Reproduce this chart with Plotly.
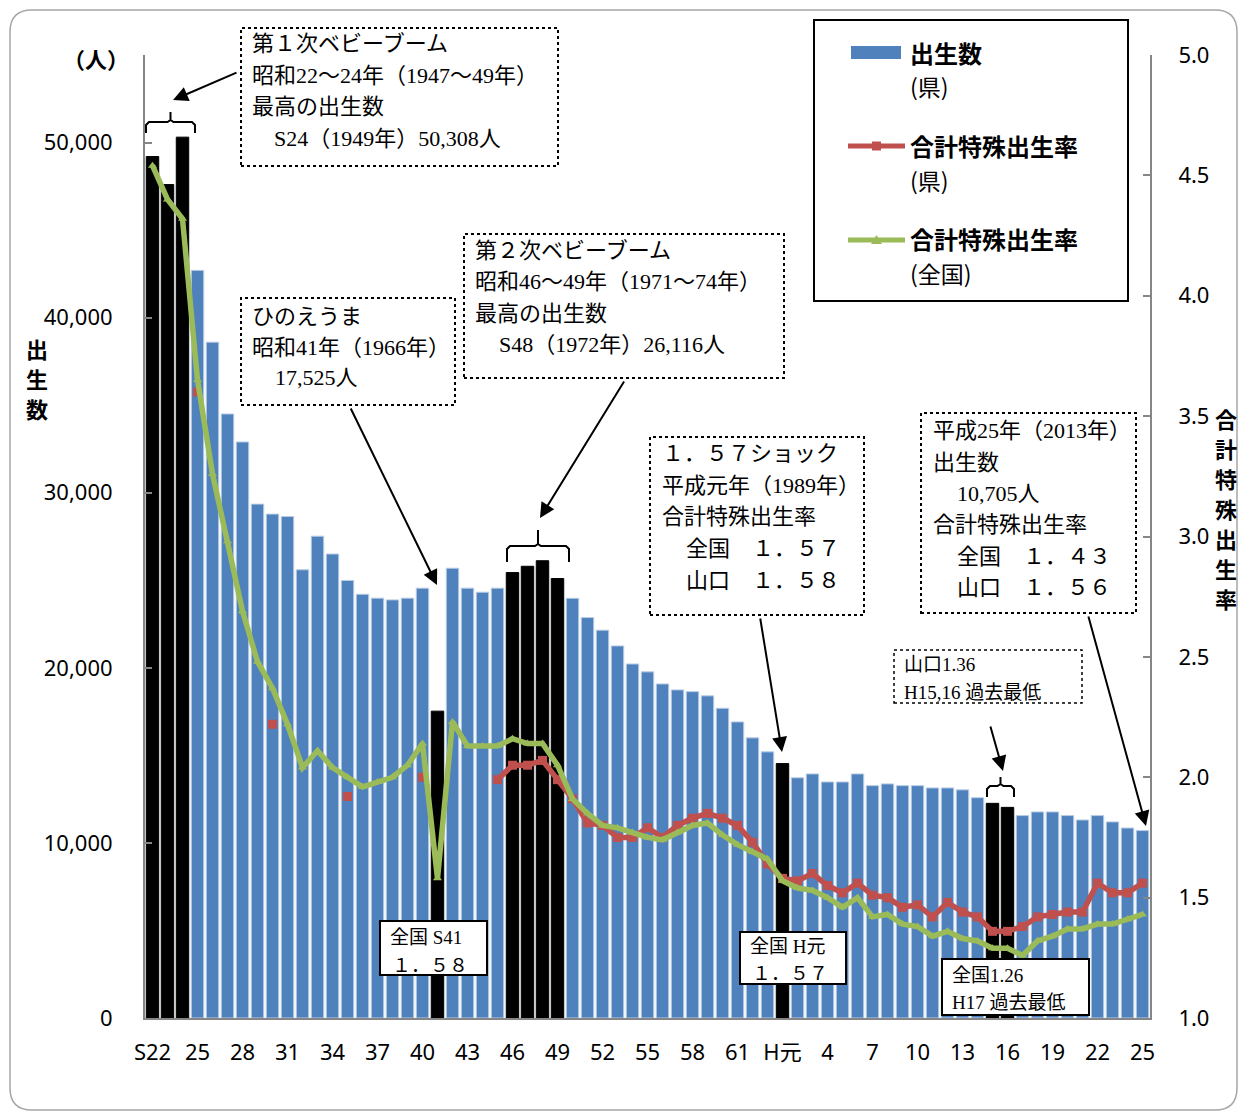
import plotly.graph_objects as go

# Fiscal years: Showa 22 (1947) ... Showa 63, Heisei 1 (1989) ... Heisei 25 (2013)
years = ["S22", "S23", "S24", "S25", "S26", "S27", "S28", "S29", "S30", "S31",
         "S32", "S33", "S34", "S35", "S36", "S37", "S38", "S39", "S40", "S41",
         "S42", "S43", "S44", "S45", "S46", "S47", "S48", "S49", "S50", "S51",
         "S52", "S53", "S54", "S55", "S56", "S57", "S58", "S59", "S60", "S61",
         "S62", "S63", "H1", "H2", "H3", "H4", "H5", "H6", "H7", "H8",
         "H9", "H10", "H11", "H12", "H13", "H14", "H15", "H16", "H17", "H18",
         "H19", "H20", "H21", "H22", "H23", "H24", "H25"]

# Births in the prefecture (persons)
births = [49200, 47600, 50308, 42700, 38600, 34500, 32900, 29350, 28780, 28640,
          25600, 27520, 26500, 24990, 24200, 23980, 23880, 23980, 24550, 17525,
          25690, 24550, 24320, 24550, 25440, 25800, 26116, 25100, 23970, 22870,
          22150, 21250, 20220, 19770, 19080, 18740, 18640, 18400, 17690, 16910,
          16000, 15200, 14530, 13720, 13940, 13480, 13480, 13940, 13270, 13370,
          13270, 13270, 13140, 13140, 13030, 12580, 12260, 12030, 11560, 11770,
          11770, 11560, 11310, 11560, 11200, 10850, 10705]

# Total fertility rate, prefecture (None = not published)
tfr_pref = [None, None, None, 3.60, None, None, None, None, 2.22, None,
            None, None, None, 1.92, None, None, None, None, 2.00, None,
            None, None, None, 1.99, 2.05, 2.05, 2.07, 1.99, 1.91, 1.81,
            1.80, 1.75, 1.75, 1.79, 1.75, 1.80, 1.83, 1.85, 1.83, 1.80,
            1.73, 1.64, 1.58, 1.57, 1.60, 1.55, 1.52, 1.56, 1.51, 1.50,
            1.46, 1.47, 1.42, 1.48, 1.44, 1.42, 1.36, 1.36, 1.38, 1.42,
            1.43, 1.44, 1.44, 1.56, 1.52, 1.52, 1.56]

# Total fertility rate, whole country
tfr_nation = [4.54, 4.40, 4.32, 3.65, 3.26, 2.98, 2.69, 2.48, 2.37, 2.22,
              2.04, 2.11, 2.04, 2.00, 1.96, 1.98, 2.00, 2.05, 2.14, 1.58,
              2.23, 2.13, 2.13, 2.13, 2.16, 2.14, 2.14, 2.05, 1.91, 1.85,
              1.80, 1.79, 1.77, 1.75, 1.74, 1.77, 1.80, 1.81, 1.76, 1.72,
              1.69, 1.66, 1.57, 1.54, 1.53, 1.50, 1.46, 1.50, 1.42, 1.43,
              1.39, 1.38, 1.34, 1.36, 1.33, 1.32, 1.29, 1.29, 1.26, 1.32,
              1.34, 1.37, 1.37, 1.39, 1.39, 1.41, 1.43]

# Years highlighted in black
highlight = ["S22", "S23", "S24", "S41", "S46", "S47", "S48", "S49", "H1", "H15", "H16"]

tick_years = ["S22", "S25", "S28", "S31", "S34", "S37", "S40", "S43", "S46", "S49",
              "S52", "S55", "S58", "S61", "H1", "H4", "H7", "H10", "H13", "H16",
              "H19", "H22", "H25"]
tick_text = ["S22", "25", "28", "31", "34", "37", "40", "43", "46", "49",
             "52", "55", "58", "61", "H元", "4", "7", "10", "13", "16",
             "19", "22", "25"]

BLUE = "#4F81BD"
RED = "#C0504D"
GREEN = "#9BBB59"
AXIS = "#868686"
SANS = "Noto Sans, Noto Sans CJK JP"
CJK = "Noto Sans CJK JP"
SERIF = "Liberation Serif, Noto Sans CJK JP"

# plot-area geometry in pixels
L, T, W, H = 145, 55, 1005, 963
FIG_W, FIG_H = 1238, 1115


def px(x):
    return (x - L) / W


def py(y):
    return (T + H - y) / H


bar_colors = ["#000000" if y in highlight else BLUE for y in years]
bar_lines = ["#000000" if y in highlight else "#B9CDE5" for y in years]

fig = go.Figure()
fig.add_trace(go.Bar(
    x=years, y=births, marker=dict(color=bar_colors, line=dict(color=bar_lines, width=1)),
    showlegend=False, hoverinfo="x+y"))
fig.add_trace(go.Scatter(
    x=years, y=tfr_pref, yaxis="y2", mode="lines+markers",
    line=dict(color=RED, width=5.5), marker=dict(symbol="square", size=9, color=RED),
    connectgaps=False, showlegend=False))
fig.add_trace(go.Scatter(
    x=years, y=tfr_nation, yaxis="y2", mode="lines+markers",
    line=dict(color=GREEN, width=5.5), marker=dict(symbol="triangle-up", size=8, color=GREEN),
    showlegend=False))

shapes = []
annotations = []


def rect(x0, y0, x1, y1, dash="solid", width=1.5, fill="white", color="black"):
    shapes.append(dict(type="rect", xref="paper", yref="paper",
                       x0=px(x0), x1=px(x1), y0=py(y1), y1=py(y0),
                       line=dict(color=color, width=width, dash=dash),
                       fillcolor=fill, layer="above"))


def text(x, y, s, size=22, family=SERIF, bold=False, anchor="left"):
    if bold:
        s = "<b>" + s + "</b>"
    annotations.append(dict(xref="paper", yref="paper", x=px(x), y=py(y),
                            text=s, showarrow=False, xanchor=anchor, yanchor="middle",
                            font=dict(size=size, family=family, color="black")))


def vertical(x, y0, step, s, size=22):
    for i, ch in enumerate(s):
        text(x, y0 + i * step, ch, size=size, family=CJK, bold=True, anchor="center")


def arrow(tx, ty, hx, hy):
    annotations.append(dict(xref="paper", yref="paper", x=px(hx), y=py(hy),
                            ax=tx - hx, ay=ty - hy, text="", showarrow=True,
                            arrowhead=2, arrowsize=1.5, arrowwidth=2, arrowcolor="black"))


def brace(x0, x1, y_low, y_top, y_tip):
    xm = (x0 + x1) / 2
    pts = [(x0, y_low), (x0, y_top + 3), (x0 + 3, y_top), (xm - 3, y_top),
           (xm, y_top - 2), (xm, y_tip), (xm, y_top - 2), (xm + 3, y_top),
           (x1 - 3, y_top), (x1, y_top + 3), (x1, y_low)]
    path = "M " + " L ".join(f"{px(a):.5f},{py(b):.5f}" for a, b in pts)
    shapes.append(dict(type="path", xref="paper", yref="paper", path=path,
                       line=dict(color="black", width=2), layer="above"))


# outer rounded frame
r = 22
fx0, fy0, fx1, fy1 = 10, 10, 1237, 1110
frame_pts = (f"M {px(fx0 + r)},{py(fy0)} L {px(fx1 - r)},{py(fy0)} "
             f"Q {px(fx1)},{py(fy0)} {px(fx1)},{py(fy0 + r)} L {px(fx1)},{py(fy1 - r)} "
             f"Q {px(fx1)},{py(fy1)} {px(fx1 - r)},{py(fy1)} L {px(fx0 + r)},{py(fy1)} "
             f"Q {px(fx0)},{py(fy1)} {px(fx0)},{py(fy1 - r)} L {px(fx0)},{py(fy0 + r)} "
             f"Q {px(fx0)},{py(fy0)} {px(fx0 + r)},{py(fy0)} Z")
shapes.append(dict(type="path", xref="paper", yref="paper", path=frame_pts,
                   line=dict(color="#A6A6A6", width=1.5), layer="below"))

# 1st baby boom
rect(241, 28, 558, 166, dash="dot", width=2)
text(250, 43, "第１次ベビーブーム")
text(250, 75, "昭和22～24年（1947～49年）")
text(250, 106, "最高の出生数")
text(272, 138, "S24（1949年）50,308人")
arrow(238, 72, 173, 100)
brace(146, 195, 133, 122, 112)

# Hinoeuma
rect(241, 298, 455, 405, dash="dot", width=2)
text(250, 316, "ひのえうま")
text(250, 348, "昭和41年（1966年）")
text(273, 378, "17,525人")
arrow(350, 407, 437, 585)

# 2nd baby boom
rect(464, 234, 784, 378, dash="dot", width=2)
text(473, 250, "第２次ベビーブーム")
text(473, 282, "昭和46～49年（1971～74年）")
text(473, 313, "最高の出生数")
text(497, 345, "S48（1972年）26,116人")
arrow(625, 380, 540, 518)
brace(507, 569, 562, 546, 530)

# 1.57 shock
rect(650, 437, 864, 615, dash="dot", width=2)
text(660, 453, "１．５７ショック")
text(660, 485, "平成元年（1989年）")
text(660, 516, "合計特殊出生率")
text(684, 548, "全国　１．５７")
text(684, 580, "山口　１．５８")
arrow(760, 617, 782, 752)

# Heisei 25
rect(921, 413, 1136, 613, dash="dot", width=2)
text(931, 430, "平成25年（2013年）")
text(931, 462, "出生数")
text(955, 493, "10,705人")
text(931, 524, "合計特殊出生率")
text(955, 556, "全国　１．４３")
text(955, 587, "山口　１．５６")
arrow(1088, 615, 1146, 826)

# prefecture record low
rect(894, 650, 1082, 703, dash="dot", width=1.5)
text(902, 665, "山口1.36", size=19)
text(902, 692, "H15,16 過去最低", size=19)
arrow(990, 725, 1003, 771)
brace(987, 1014, 797, 786, 777)

# value call-outs with solid frame
rect(380, 921, 487, 975, width=2)
text(388, 937, "全国 S41", size=19)
text(390, 965, "１．５８", size=19)
rect(740, 932, 846, 984, width=2)
text(748, 946, "全国 H元", size=19)
text(750, 973, "１．５７", size=19)
rect(942, 959, 1089, 1015, width=2)
text(950, 975, "全国1.26", size=19)
text(950, 1002, "H17 過去最低", size=19)

# legend
rect(814, 20, 1128, 301, width=2)
shapes.append(dict(type="rect", xref="paper", yref="paper", x0=px(851), x1=px(901),
                   y0=py(59), y1=py(46), fillcolor=BLUE, line=dict(width=0), layer="above"))
text(908, 52, "出生数", size=24, family=CJK, bold=True)
text(908, 86, "(県)", size=23, family=CJK)
shapes.append(dict(type="line", xref="paper", yref="paper", x0=px(848), x1=px(905),
                   y0=py(146), y1=py(146), line=dict(color=RED, width=5), layer="above"))
shapes.append(dict(type="rect", xref="paper", yref="paper", x0=px(872), x1=px(881),
                   y0=py(150.5), y1=py(141.5), fillcolor=RED, line=dict(width=0), layer="above"))
text(908, 145, "合計特殊出生率", size=24, family=CJK, bold=True)
text(908, 180, "(県)", size=23, family=CJK)
shapes.append(dict(type="line", xref="paper", yref="paper", x0=px(848), x1=px(905),
                   y0=py(240), y1=py(240), line=dict(color=GREEN, width=5), layer="above"))
shapes.append(dict(type="path", xref="paper", yref="paper",
                   path=f"M {px(871)},{py(244)} L {px(882)},{py(244)} L {px(876.5)},{py(235)} Z",
                   fillcolor=GREEN, line=dict(width=0), layer="above"))
text(908, 238, "合計特殊出生率", size=24, family=CJK, bold=True)
text(908, 273, "(全国)", size=23, family=CJK)

# axis titles
text(96, 58, "（人）", size=22, family=CJK, bold=True, anchor="center")
vertical(37, 348, 30, "出生数")
vertical(1226, 418, 30, "合計特殊出生率")

fig.update_layout(
    width=FIG_W, height=FIG_H,
    margin=dict(l=L, r=FIG_W - L - W, t=T, b=FIG_H - T - H, autoexpand=False),
    paper_bgcolor="white", plot_bgcolor="white",
    bargap=0.17,
    shapes=shapes, annotations=annotations,
    xaxis=dict(type="category", categoryorder="array", categoryarray=years,
               range=[-0.5, len(years) - 0.5],
               tickmode="array", tickvals=tick_years, ticktext=tick_text,
               ticks="", showline=True, linecolor=AXIS, linewidth=2,
               showgrid=False, zeroline=False, ticklabelstandoff=14,
               tickfont=dict(size=22, family=SANS, color="black")),
    yaxis=dict(range=[0, 55000], dtick=10000, tickformat=",d", showgrid=False,
               zeroline=False, showline=True, linecolor=AXIS, linewidth=2,
               ticks="inside", ticklen=7, tickcolor=AXIS, tickwidth=2,
               ticklabelstandoff=26,
               tickfont=dict(size=22, family=SANS, color="black")),
    yaxis2=dict(range=[1.0, 5.0], dtick=0.5, tickformat=".1f", overlaying="y", side="right",
                showgrid=False, zeroline=False, showline=True, linecolor=AXIS, linewidth=2,
                ticks="inside", ticklen=7, tickcolor=AXIS, tickwidth=2,
                ticklabelstandoff=22,
                tickfont=dict(size=22, family=SANS, color="black")),
)

fig.write_html("out.html")
